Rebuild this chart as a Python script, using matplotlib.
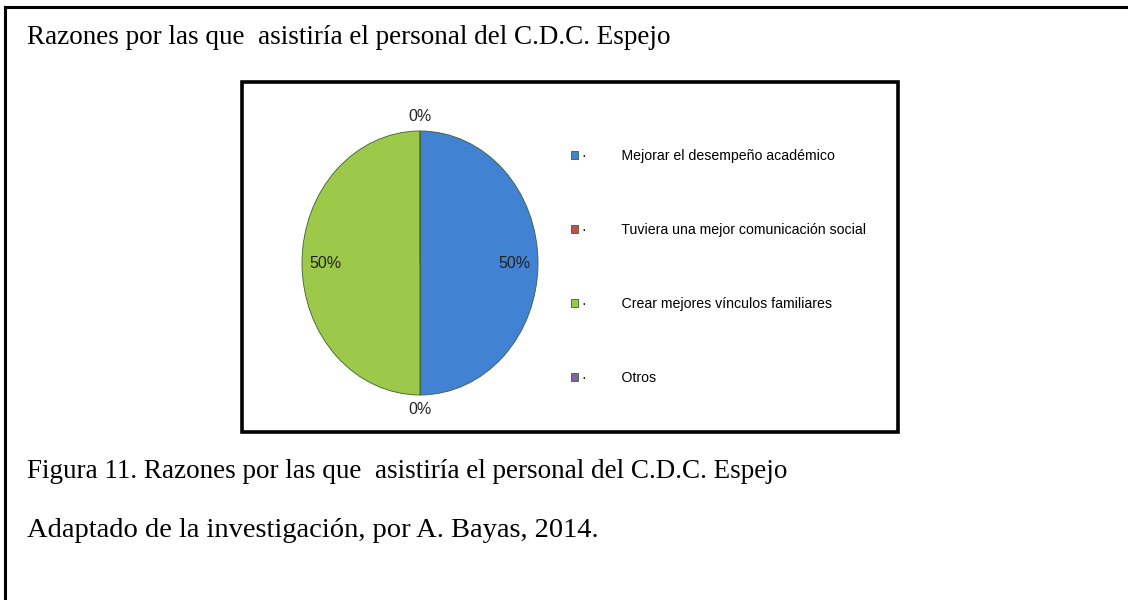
import matplotlib.pyplot as plt
from matplotlib.patches import Rectangle
from matplotlib.lines import Line2D
import numpy as np

# Datos del grafico
categorias = ["Mejorar el desempeño académico",
              "Tuviera una mejor comunicación social",
              "Crear mejores vínculos familiares",
              "Otros"]
porcentajes = [50, 0, 50, 0]
colores = ["#4282d3", "#c0504d", "#9dc94a", "#8064a2"]

titulo = "Razones por las que  asistiría el personal del C.D.C. Espejo"
pie_figura = "Figura 11. Razones por las que  asistiría el personal del C.D.C. Espejo"
fuente = "Adaptado de la investigación, por A. Bayas, 2014."

W, H = 1128, 600
fig = plt.figure(figsize=(W / 100, H / 100), dpi=100)

# Bordes de la celda (solo izquierda y arriba)
fig.add_artist(Line2D([5 / W, 5 / W], [0, 1 - 7 / H], transform=fig.transFigure,
                      color="black", lw=2.2))
fig.add_artist(Line2D([5 / W, 1], [1 - 7 / H, 1 - 7 / H], transform=fig.transFigure,
                      color="black", lw=2.2))

# Textos en Times
fig.text(27 / W, 1 - 44 / H, titulo, fontsize=19.5, family="Liberation Serif",
         va="baseline", ha="left")
fig.text(27 / W, 1 - 478 / H, pie_figura, fontsize=19.5, family="Liberation Serif",
         va="baseline", ha="left")
fig.text(27 / W, 1 - 537 / H, fuente, fontsize=20.5, family="Liberation Serif",
         va="baseline", ha="left")

# Recuadro del grafico
fig.add_artist(Rectangle((242 / W, 1 - 432 / H), (898 - 242) / W, (432 - 82) / H,
                         transform=fig.transFigure, fill=False, ec="black", lw=2.6))

# Pastel (eliptico)
cx, cy, rx, ry = 420, 263, 118, 132
ax = fig.add_axes([(cx - 1.25 * rx) / W, 1 - (cy + 1.25 * ry) / H,
                   2.5 * rx / W, 2.5 * ry / H])
wedges, _ = ax.pie(porcentajes, colors=colores, startangle=90, counterclock=False,
                   wedgeprops=dict(edgecolor="#3f5f2a", linewidth=0.6))
ax.set_aspect("auto")
ax.set_xlim(-1.25, 1.25)
ax.set_ylim(-1.25, 1.25)

# Etiquetas de porcentaje
total = sum(porcentajes)
inicio = 90.0
for p in porcentajes:
    ang = inicio - 360.0 * p / total / 2
    inicio -= 360.0 * p / total
    a = np.deg2rad(ang)
    r = 0.80 if p > 0 else 1.11
    ax.text(r * np.cos(a), r * np.sin(a), f"{p:.0f}%", ha="center", va="center",
            fontsize=11.5, family="Liberation Sans", color="#222222")

# Leyenda
etiquetas = ["·         " + c for c in categorias]
leg = fig.legend(wedges, etiquetas, loc="upper left",
                 bbox_to_anchor=(558 / W, 1 - 136 / H), frameon=False,
                 prop={"family": "Liberation Sans", "size": 10.2},
                 handlelength=0.5, handleheight=0.5, handletextpad=0.3,
                 labelspacing=4.25)

plt.savefig("out.png", dpi=100)
